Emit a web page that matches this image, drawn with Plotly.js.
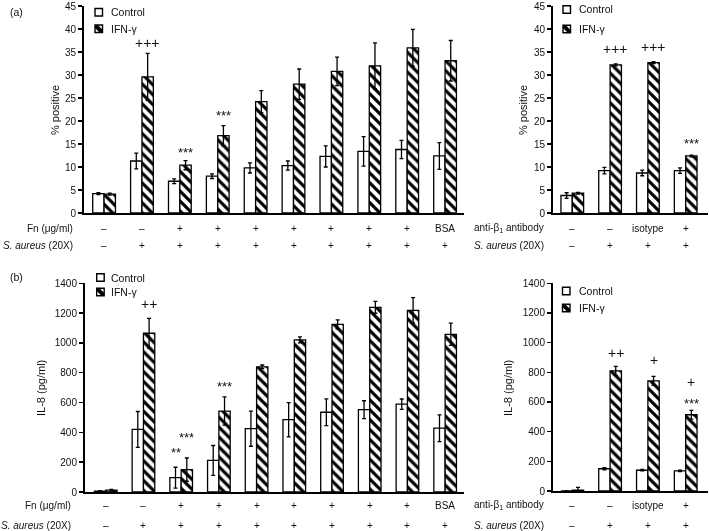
<!DOCTYPE html>
<html><head><meta charset="utf-8">
<script src="https://cdn.plot.ly/plotly-3.0.1.min.js"></script>
<style>
html,body{margin:0;padding:0;background:#fff}
#chart{filter:grayscale(1)}
</style>
</head><body><div id="chart" style="width:709px;height:531px"></div>
<script>
// ---------- DATA ----------
// Panel (a), left: % positive, Fn series
const groupsL = [0,1,2,3,4,5,6,7,8,9];
const fnLabels = ['–','–','+','+','+','+','+','+','+','BSA'];
const saLabelsL = ['–','+','+','+','+','+','+','+','+','+'];
const a1Control = [4.2, 11.3, 6.9, 8.0, 9.8, 10.3, 12.3, 13.4, 13.8, 12.4];
const a1ControlErr = [0.2, 1.7, 0.5, 0.5, 1.1, 1.0, 2.3, 3.2, 2.0, 2.9];
const a1Ifn = [4.1, 29.6, 10.4, 16.8, 24.2, 28.0, 30.8, 32.0, 35.9, 33.1];
const a1IfnErr = [0.2, 5.1, 1.0, 2.2, 2.4, 3.3, 3.1, 5.0, 4.0, 4.4];
// Panel (a), right: % positive, anti-beta1 series
const groupsR = [0,1,2,3];
const antiLabels = ['–','–','isotype','+'];
const saLabelsR = ['–','+','+','+'];
const a2Control = [3.8, 9.2, 8.7, 9.2];
const a2ControlErr = [0.6, 0.7, 0.6, 0.6];
const a2Ifn = [4.3, 32.2, 32.7, 12.4];
const a2IfnErr = [0.2, 0.2, 0.2, 0.2];
// Panel (b), left: IL-8 (pg/ml)
const b1Control = [5, 420, 96, 212, 425, 485, 535, 552, 589, 428];
const b1ControlErr = [4, 120, 70, 100, 118, 115, 90, 60, 35, 90];
const b1Ifn = [12, 1065, 150, 543, 840, 1020, 1125, 1239, 1219, 1058];
const b1IfnErr = [6, 100, 78, 95, 12, 20, 30, 40, 85, 75];
// Panel (b), right
const b2Control = [0, 150, 140, 135];
const b2ControlErr = [0, 8, 5, 5];
const b2Ifn = [5, 810, 742, 514];
const b2IfnErr = [20, 30, 30, 30];
// significance marks: group, series, text
const marksA1 = [[1,'ifn','+++'],[2,'ifn','***'],[3,'ifn','***']];
const marksA2 = [[1,'ifn','+++'],[2,'ifn','+++'],[3,'ifn','***']];
const marksB1 = [[1,'ifn','++'],[2,'ctl','**'],[2,'ifn','***'],[3,'ifn','***']];
const marksB2 = [[1,'ifn','++'],[2,'ifn','+'],[3,'ifn','+'],[3,'ifn','***']];

// ---------- LAYOUT HELPERS ----------
const W = 709, H = 531;
const px = x => x / W;
const py = y => 1 - y / H;
const FONT = 'Liberation Sans, Arial, Helvetica, sans-serif';
const INK = '#111';
const BARGAP = 0.4;
const HALF = (1 - BARGAP) / 4; // offset of each bar centre from group centre

// vertical lift (px) above error bar for each mark, in order
const liftA1 = [10, 8, 10];
const liftA2 = [15, 15, 12];
const liftB1 = [14, 15, 21, 10];
const liftB2 = [13, 16, 28, 7];

function barPair(ax, ay, x, ctl, ctlErr, ifn, ifnErr) {
  const common = {type:'bar', x:x, xaxis:ax, yaxis:ay, showlegend:false, hoverinfo:'skip'};
  const eb = arr => ({type:'data', array:arr, visible:true, color:'black', thickness:1.3, width:2});
  return [
    Object.assign({}, common, {name:'Control', y:ctl, error_y:eb(ctlErr),
      marker:{color:'white', line:{color:'black', width:1.3}}}),
    Object.assign({}, common, {name:'IFN-γ', y:ifn, error_y:eb(ifnErr),
      marker:{color:'white', line:{color:'black', width:1.3},
        pattern:{shape:'\\', size:7, solidity:0.45, fgcolor:'black', bgcolor:'white'}}})
  ];
}

const data = [].concat(
  barPair('x','y', groupsL, a1Control, a1ControlErr, a1Ifn, a1IfnErr),
  barPair('x2','y2', groupsR, a2Control, a2ControlErr, a2Ifn, a2IfnErr),
  barPair('x3','y3', groupsL, b1Control, b1ControlErr, b1Ifn, b1IfnErr),
  barPair('x4','y4', groupsR, b2Control, b2ControlErr, b2Ifn, b2IfnErr)
);

function xax(d0, d1, r, anchor) {
  return {domain:[px(d0), px(d1)], range:r, anchor:anchor, showline:true, linewidth:2,
    linecolor:'black', ticks:'', showticklabels:false, showgrid:false, zeroline:false, fixedrange:true};
}
function yax(yBottom, yTop, r, dt, anchor) {
  return {domain:[py(yBottom), py(yTop)], range:r, dtick:dt, tick0:0, anchor:anchor,
    ticks:'outside', ticklen:4, tickwidth:1.5, tickcolor:'black', showline:true, linewidth:2,
    linecolor:'black', showgrid:false, zeroline:false, fixedrange:true,
    tickfont:{family:FONT, size:10, color:INK}};
}

const annotations = [];
const shapes = [];
function txt(x, y, text, opts) {
  annotations.push(Object.assign({x:x, y:y, xref:'paper', yref:'paper', text:text, showarrow:false,
    font:{family:FONT, size:10, color:INK}, xanchor:'center', yanchor:'middle'}, opts || {}));
}

// row labels under each panel
function rowLabels(xref, groups, labels, yPix) {
  groups.forEach((g, i) => annotations.push({x:g, y:py(yPix), xref:xref, yref:'paper',
    text:labels[i], showarrow:false, font:{family:FONT, size:10, color:INK},
    xanchor:'center', yanchor:'middle'}));
}
rowLabels('x', groupsL, fnLabels, 228);
rowLabels('x', groupsL, saLabelsL, 246);
rowLabels('x2', groupsR, antiLabels, 228);
rowLabels('x2', groupsR, saLabelsR, 246);
rowLabels('x3', groupsL, fnLabels, 505);
rowLabels('x3', groupsL, saLabelsL, 525);
rowLabels('x4', groupsR, antiLabels, 505);
rowLabels('x4', groupsR, saLabelsR, 525);

txt(px(75), py(228), 'Fn (μg/ml)', {xanchor:'right'});
txt(px(75), py(246), '<i>S. aureus</i> (20X)', {xanchor:'right'});
txt(px(546), py(228), 'anti-β<sub>1</sub> antibody', {xanchor:'right'});
txt(px(546), py(246), '<i>S. aureus</i> (20X)', {xanchor:'right'});
txt(px(73), py(505), 'Fn (μg/ml)', {xanchor:'right'});
txt(px(73), py(525), '<i>S. aureus</i> (20X)', {xanchor:'right'});
txt(px(546), py(505), 'anti-β<sub>1</sub> antibody', {xanchor:'right'});
txt(px(546), py(525), '<i>S. aureus</i> (20X)', {xanchor:'right'});

// axis titles
txt(px(55), py(110), '% positive', {textangle:-90, font:{family:FONT, size:11, color:INK}});
txt(px(523), py(110), '% positive', {textangle:-90, font:{family:FONT, size:11, color:INK}});
txt(px(41), py(388), 'IL-8 (pg/ml)', {textangle:-90, font:{family:FONT, size:11, color:INK}});
txt(px(508), py(388), 'IL-8 (pg/ml)', {textangle:-90, font:{family:FONT, size:11, color:INK}});

// panel letters
txt(px(8), py(12), '(a)', {xanchor:'left', font:{family:FONT, size:10.5, color:INK}});
txt(px(8), py(277), '(b)', {xanchor:'left', font:{family:FONT, size:10.5, color:INK}});

// significance marks
function marks(xref, yref, list, lifts, ctl, ctlErr, ifn, ifnErr) {
  list.forEach((m, i) => {
    const g = m[0], isIfn = m[1] === 'ifn', t = m[2];
    const v = isIfn ? ifn[g] + ifnErr[g] : ctl[g] + ctlErr[g];
    const plus = t.indexOf('+') >= 0;
    annotations.push({x:g + (isIfn ? HALF : -HALF), y:v, xref:xref, yref:yref, text:t,
      showarrow:false, xanchor:'center', yanchor:'middle', yshift:lifts[i],
      font:{family:FONT, size:plus ? 14 : 13, color:INK}});
  });
}
marks('x','y', marksA1, liftA1, a1Control, a1ControlErr, a1Ifn, a1IfnErr);
marks('x2','y2', marksA2, liftA2, a2Control, a2ControlErr, a2Ifn, a2IfnErr);
marks('x3','y3', marksB1, liftB1, b1Control, b1ControlErr, b1Ifn, b1IfnErr);
marks('x4','y4', marksB2, liftB2, b2Control, b2ControlErr, b2Ifn, b2IfnErr);

// custom legends
function legend(x0, yCtl, yIfn, textX) {
  const s = 7.5;
  shapes.push({type:'rect', xref:'paper', yref:'paper', x0:px(x0), x1:px(x0+s),
    y0:py(yCtl - s/2), y1:py(yCtl + s/2), fillcolor:'white', line:{color:'black', width:1.4}});
  const a = x0, b = x0 + s, t = yIfn - s/2, u = yIfn + s/2, d = s * 0.38;
  const P = (x, y) => px(x) + ',' + py(y);
  shapes.push({type:'rect', xref:'paper', yref:'paper', x0:px(a), x1:px(b),
    y0:py(u), y1:py(t), fillcolor:'white', line:{color:'black', width:0}});
  shapes.push({type:'path', xref:'paper', yref:'paper',
    path:'M' + P(a, t) + ' L' + P(a + d, t) + ' L' + P(b, u - d) + ' L' + P(b, u) +
      ' L' + P(b - d, u) + ' L' + P(a, t + d) + ' Z', fillcolor:'black', line:{width:0}});
  shapes.push({type:'rect', xref:'paper', yref:'paper', x0:px(a), x1:px(b),
    y0:py(u), y1:py(t), fillcolor:'rgba(0,0,0,0)', line:{color:'black', width:1.4}});
  txt(px(textX), py(yCtl), 'Control', {xanchor:'left', font:{family:FONT, size:10.5, color:INK}});
  txt(px(textX), py(yIfn), 'IFN-γ', {xanchor:'left', font:{family:FONT, size:10.5, color:INK}});
}
legend(95, 12.2, 28.8, 109);
legend(563, 9.5, 29, 577);
legend(96.7, 277.5, 292, 109);
legend(562.5, 291, 308, 577);

const layout = {
  width:W, height:H, margin:{l:0, r:0, t:0, b:0},
  paper_bgcolor:'white', plot_bgcolor:'white',
  barmode:'group', bargap:BARGAP, bargroupgap:0,
  showlegend:false,
  font:{family:FONT, color:INK},
  xaxis: xax(84, 464, [-0.53, 9.5], 'y'),
  yaxis: yax(213, 6, [0, 45], 5, 'x'),
  xaxis2: xax(553, 708, [-0.51, 3.59], 'y2'),
  yaxis2: yax(213, 6, [0, 45], 5, 'x2'),
  xaxis3: xax(85, 464, [-0.55, 9.5], 'y3'),
  yaxis3: yax(492, 283.3, [0, 1400], 200, 'x3'),
  xaxis4: xax(553, 708, [-0.51, 3.59], 'y4'),
  yaxis4: yax(491, 283.3, [0, 1400], 200, 'x4'),
  annotations: annotations,
  shapes: shapes
};
Plotly.newPlot('chart', data, layout, {displayModeBar:false, staticPlot:true});
</script></body></html>
